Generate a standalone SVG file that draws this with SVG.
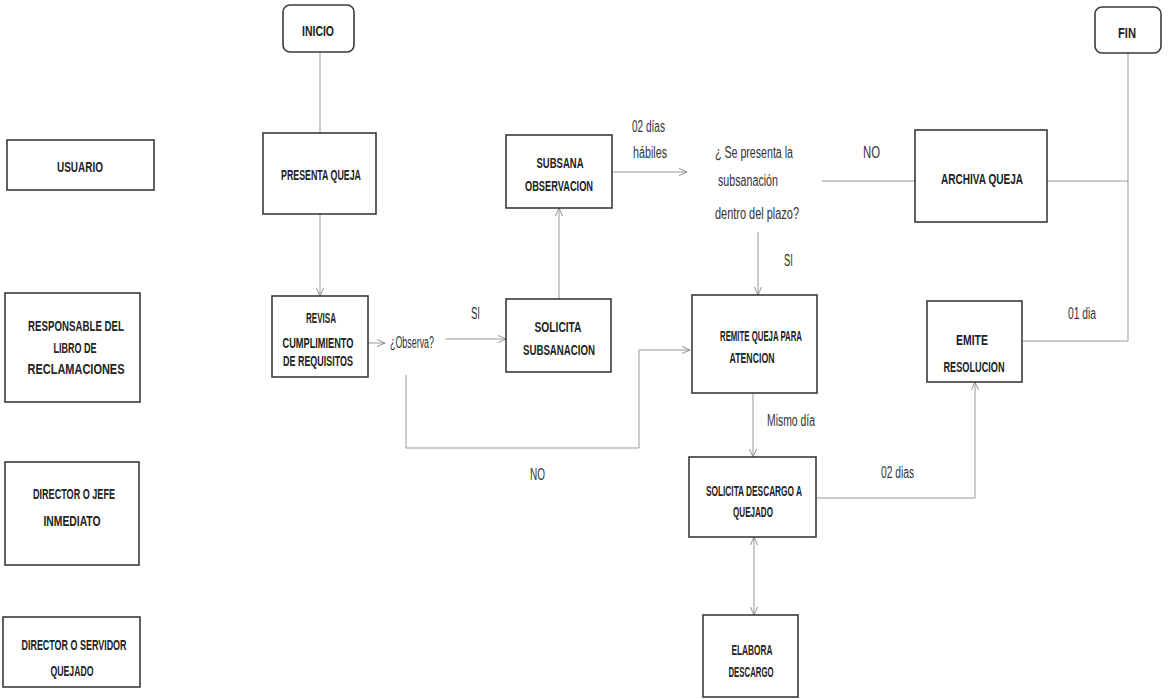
<svg xmlns="http://www.w3.org/2000/svg" width="1174" height="699" viewBox="0 0 1174 699">
<defs>
<marker id="arr" viewBox="0 0 10 10" refX="10" refY="5" markerWidth="9" markerHeight="9" orient="auto" markerUnits="userSpaceOnUse">
<polyline points="1,1 10,5 1,9" fill="none" stroke="#888" stroke-width="1"/>
</marker>
<marker id="arrs" viewBox="0 0 10 10" refX="0" refY="5" markerWidth="9" markerHeight="9" orient="auto" markerUnits="userSpaceOnUse">
<polyline points="9,1 0,5 9,9" fill="none" stroke="#888" stroke-width="1"/>
</marker>
</defs>
<style>
.box{fill:#fff;stroke:#3a3a3a;stroke-width:1.6}
.lane{font-family:"Liberation Sans",sans-serif;font-weight:bold;font-size:15.5px;fill:#222;text-anchor:middle}
.nt{font-family:"Liberation Sans",sans-serif;font-weight:bold;font-size:14.5px;fill:#222;text-anchor:middle}
.lb{font-family:"Liberation Sans",sans-serif;font-size:16px;fill:#333}
.c{fill:none;stroke:#999;stroke-width:1}
</style>
<rect width="1174" height="699" fill="#fff"/>

<g id="connectors">
<path class="c" d="M320,52 V133"/>
<path class="c" d="M320,214 V296" marker-end="url(#arr)"/>
<path class="c" d="M368,343 H385" marker-end="url(#arr)"/>
<path class="c" d="M445,339 H506" marker-end="url(#arr)"/>
<path class="c" d="M559,299 V208" marker-end="url(#arr)"/>
<path class="c" d="M592,172 H687" marker-end="url(#arr)"/>
<path class="c" d="M758,232 V295" marker-end="url(#arr)"/>
<path class="c" d="M822,181 H915"/>
<path class="c" d="M1047,181 H1128"/>
<path class="c" d="M1023,341 H1128 V53"/>
<path class="c" d="M406,375 V448 H639 V350 H690" marker-end="url(#arr)"/>
<path class="c" d="M753,393 V457" marker-end="url(#arr)"/>
<path class="c" d="M816,498 H975 V382" marker-end="url(#arr)"/>
<path class="c" d="M754,537 V615" marker-start="url(#arrs)" marker-end="url(#arr)"/>
</g>

<g id="edge-labels">
<text class="lb" x="632" y="132" textLength="33" lengthAdjust="spacingAndGlyphs">02 días</text>
<text class="lb" x="633" y="158" textLength="34" lengthAdjust="spacingAndGlyphs">hábiles</text>
<text class="lb" x="715" y="158" textLength="78" lengthAdjust="spacingAndGlyphs">¿ Se presenta la</text>
<text class="lb" x="718" y="186" textLength="60" lengthAdjust="spacingAndGlyphs">subsanación</text>
<text class="lb" x="715" y="219" textLength="84" lengthAdjust="spacingAndGlyphs">dentro del plazo?</text>
<text class="lb" x="863" y="158" textLength="17" lengthAdjust="spacingAndGlyphs">NO</text>
<text class="lb" x="784" y="266" textLength="9" lengthAdjust="spacingAndGlyphs">SI</text>
<text class="lb" x="471" y="319" textLength="9" lengthAdjust="spacingAndGlyphs">SI</text>
<text class="lb" x="390" y="348" textLength="44" lengthAdjust="spacingAndGlyphs">¿Observa?</text>
<text class="lb" x="530" y="480" textLength="15" lengthAdjust="spacingAndGlyphs">NO</text>
<text class="lb" x="767" y="426" textLength="48" lengthAdjust="spacingAndGlyphs">Mismo día</text>
<text class="lb" x="881" y="478" textLength="33" lengthAdjust="spacingAndGlyphs">02 dias</text>
<text class="lb" x="1068" y="319" textLength="28" lengthAdjust="spacingAndGlyphs">01 dia</text>
</g>

<g id="lane-usuario">
<rect class="box" x="7" y="140" width="147" height="50"/>
<text class="lane" x="80" y="172" textLength="46" lengthAdjust="spacingAndGlyphs">USUARIO</text>
</g>
<g id="lane-responsable">
<rect class="box" x="5" y="293" width="135" height="109"/>
<text class="lane" x="76" y="331" textLength="96" lengthAdjust="spacingAndGlyphs">RESPONSABLE DEL</text>
<text class="lane" x="75" y="353" textLength="43" lengthAdjust="spacingAndGlyphs">LIBRO DE</text>
<text class="lane" x="76" y="374" textLength="97" lengthAdjust="spacingAndGlyphs">RECLAMACIONES</text>
</g>
<g id="lane-director-jefe">
<rect class="box" x="5" y="462" width="134" height="103"/>
<text class="lane" x="74" y="499" textLength="82" lengthAdjust="spacingAndGlyphs">DIRECTOR O JEFE</text>
<text class="lane" x="72" y="526" textLength="57" lengthAdjust="spacingAndGlyphs">INMEDIATO</text>
</g>
<g id="lane-director-servidor">
<rect class="box" x="3" y="617" width="137" height="70"/>
<text class="lane" x="74" y="650" textLength="105" lengthAdjust="spacingAndGlyphs">DIRECTOR O SERVIDOR</text>
<text class="lane" x="72" y="676" textLength="43" lengthAdjust="spacingAndGlyphs">QUEJADO</text>
</g>

<g id="inicio">
<rect class="box" x="283" y="5" width="71" height="47" rx="7"/>
<text class="lane" x="318" y="36" textLength="32" lengthAdjust="spacingAndGlyphs">INICIO</text>
</g>
<g id="fin">
<rect class="box" x="1095" y="7" width="66" height="46" rx="7"/>
<text class="lane" x="1127" y="38" textLength="18" lengthAdjust="spacingAndGlyphs">FIN</text>
</g>
<g id="presenta-queja">
<rect class="box" x="263" y="133" width="113" height="81"/>
<text class="nt" x="321" y="180" textLength="80" lengthAdjust="spacingAndGlyphs">PRESENTA QUEJA</text>
</g>
<g id="subsana-observacion">
<rect class="box" x="506" y="135" width="106" height="73"/>
<text class="nt" x="560" y="168" textLength="47" lengthAdjust="spacingAndGlyphs">SUBSANA</text>
<text class="nt" x="559" y="191" textLength="68" lengthAdjust="spacingAndGlyphs">OBSERVACION</text>
</g>
<g id="archiva-queja">
<rect class="box" x="915" y="130" width="132" height="92"/>
<text class="nt" x="982" y="184" textLength="82" lengthAdjust="spacingAndGlyphs">ARCHIVA  QUEJA</text>
</g>
<g id="revisa">
<rect class="box" x="272" y="296" width="96" height="81"/>
<text class="nt" x="321" y="323" textLength="30" lengthAdjust="spacingAndGlyphs">REVISA</text>
<text class="nt" x="318" y="348" textLength="71" lengthAdjust="spacingAndGlyphs">CUMPLIMIENTO</text>
<text class="nt" x="318" y="366" textLength="70" lengthAdjust="spacingAndGlyphs">DE REQUISITOS</text>
</g>
<g id="solicita-subsanacion">
<rect class="box" x="506" y="299" width="105" height="73"/>
<text class="nt" x="558" y="332" textLength="47" lengthAdjust="spacingAndGlyphs">SOLICITA</text>
<text class="nt" x="559" y="355" textLength="72" lengthAdjust="spacingAndGlyphs">SUBSANACION</text>
</g>
<g id="remite-queja">
<rect class="box" x="692" y="295" width="125" height="98"/>
<text class="nt" x="761" y="341" textLength="82" lengthAdjust="spacingAndGlyphs">REMITE  QUEJA  PARA</text>
<text class="nt" x="752" y="363" textLength="45" lengthAdjust="spacingAndGlyphs">ATENCION</text>
</g>
<g id="emite-resolucion">
<rect class="box" x="927" y="301" width="95" height="81"/>
<text class="nt" x="972" y="345" textLength="32" lengthAdjust="spacingAndGlyphs">EMITE</text>
<text class="nt" x="974" y="372" textLength="61" lengthAdjust="spacingAndGlyphs">RESOLUCION</text>
</g>
<g id="solicita-descargo">
<rect class="box" x="689" y="457" width="127" height="80"/>
<text class="nt" x="754" y="496" textLength="96" lengthAdjust="spacingAndGlyphs">SOLICITA  DESCARGO  A</text>
<text class="nt" x="753" y="517" textLength="40" lengthAdjust="spacingAndGlyphs">QUEJADO</text>
</g>
<g id="elabora-descargo">
<rect class="box" x="703" y="615" width="95" height="82"/>
<text class="nt" x="752" y="655" textLength="41" lengthAdjust="spacingAndGlyphs">ELABORA</text>
<text class="nt" x="751" y="677" textLength="45" lengthAdjust="spacingAndGlyphs">DESCARGO</text>
</g>
</svg>
